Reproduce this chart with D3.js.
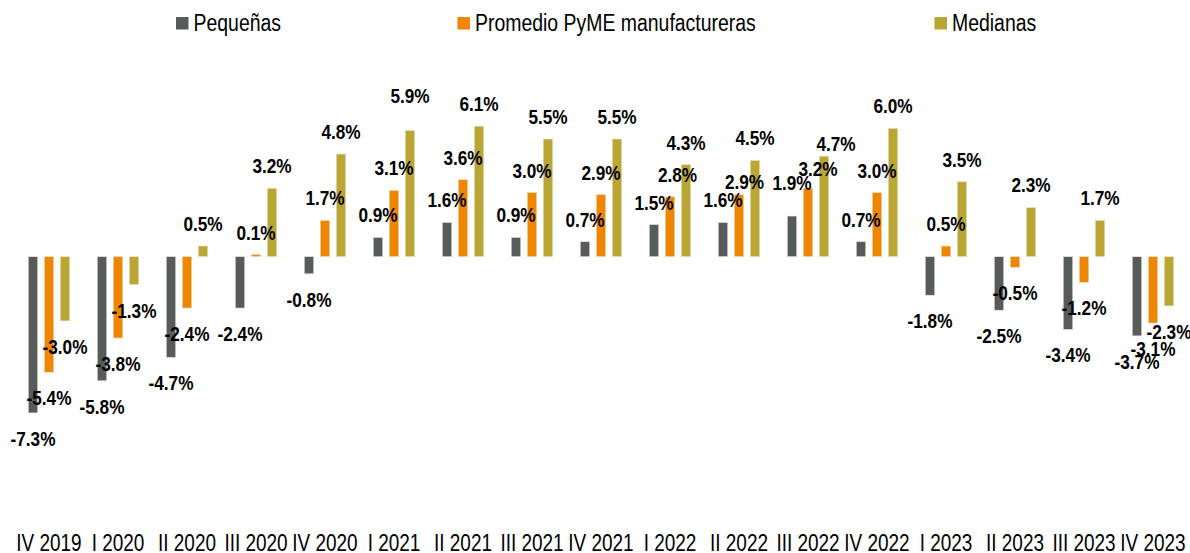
<!DOCTYPE html>
<html>
<head>
<meta charset="utf-8">
<script src="https://cdn.jsdelivr.net/npm/d3@7"></script>
<style>
  body { margin: 0; background: #fff; }
  svg { display: block; }
  text { font-family: "Liberation Sans", Arial, sans-serif; }
</style>
</head>
<body>
<svg id="chart" width="1190" height="553"></svg>
<script>
const categories = ["IV 2019","I 2020","II 2020","III 2020","IV 2020","I 2021","II 2021","III 2021","IV 2021","I 2022","II 2022","III 2022","IV 2022","I 2023","II 2023","III 2023","IV 2023"];
const seriesNames = ["Pequeñas","Promedio PyME manufactureras","Medianas"];
const pequenas = [-7.3,-5.8,-4.7,-2.4,-0.8,0.9,1.6,0.9,0.7,1.5,1.6,1.9,0.7,-1.8,-2.5,-3.4,-3.7];
const promedio = [-5.4,-3.8,-2.4,0.1,1.7,3.1,3.6,3.0,2.9,2.8,2.9,3.2,3.0,0.5,-0.5,-1.2,-3.1];
const medianas = [-3.0,-1.3,0.5,3.2,4.8,5.9,6.1,5.5,5.5,4.3,4.5,4.7,6.0,3.5,2.3,1.7,-2.3];
const colors = ["#585b5b","#ee8600","#bba533"];

// manual label nudges seen in the reference (category|series index -> [dx, dy])
const labelNudges = {
  "I 2021|2": [0, -12],
  "I 2022|1": [7.5, 0],
  "II 2022|1": [5.5, 9],
  "III 2022|0": [0, -11],
  "III 2022|1": [10, 3],
  "III 2022|2": [12, 10]
};

const seriesValues = [pequenas, promedio, medianas];
const svg = d3.select("#chart");

const x = d3.scaleBand().domain(categories).range([14.5, 1187.5]).padding(0);
const xs = d3.scaleBand().domain(seriesNames).range([-24, 24]).padding(0);
const y = d3.scaleLinear().domain([-7.3, 6.1]).range([256.7 + 7.3 * 21.4, 256.7 - 6.1 * 21.4]);
const barW = 9.5;

const data = [];
categories.forEach((c, i) => {
  seriesNames.forEach((s, j) => {
    data.push({cat: c, series: s, idx: j, value: seriesValues[j][i]});
  });
});

const cx = d => x(d.cat) + x.bandwidth() / 2 + xs(d.series) + xs.bandwidth() / 2;
const fmt = v => d3.format(".1f")(v).replace("\u2212", "-") + "%";
const nudge = d => labelNudges[d.cat + "|" + d.idx] || [0, 0];

svg.append("g").selectAll("rect").data(data).join("rect")
  .attr("x", d => cx(d) - barW / 2)
  .attr("width", barW)
  .attr("y", d => Math.min(y(d.value), y(0)))
  .attr("height", d => Math.abs(y(d.value) - y(0)))
  .attr("fill", d => colors[d.idx])
  .attr("stroke", "#e8e4d8")
  .attr("stroke-width", 0.6);

svg.append("g").selectAll("text").data(data).join("text")
  .attr("transform", d => {
    const [dx, dy] = nudge(d);
    const ty = d.value >= 0 ? y(d.value) - 15 : y(d.value) + 33;
    return `translate(${cx(d) + dx},${ty + dy}) scale(0.82,1)`;
  })
  .attr("text-anchor", "middle")
  .attr("font-size", 21)
  .attr("font-weight", "bold")
  .attr("fill", "#000")
  .text(d => fmt(d.value));

const axis = svg.append("g")
  .attr("transform", "translate(0,534)")
  .call(d3.axisBottom(x).tickSize(0).tickPadding(0));
axis.select(".domain").remove();
axis.selectAll("text")
  .attr("font-size", 24)
  .attr("fill", "#000")
  .attr("transform", "scale(0.79,1)")
  .style("font-family", '"Liberation Sans", Arial, sans-serif');

const legendX = [176, 457.5, 934.5];
const legend = svg.append("g").selectAll("g").data(seriesNames).join("g")
  .attr("transform", (d, i) => `translate(${legendX[i]},0)`);
legend.append("rect").attr("x", 0).attr("y", 17).attr("width", 12.5).attr("height", 12.5)
  .attr("fill", (d, i) => colors[i]);
legend.append("text").attr("transform", "translate(17.5,31) scale(0.81,1)")
  .attr("font-size", 24).attr("fill", "#000")
  .text(d => d);
</script>
</body>
</html>
